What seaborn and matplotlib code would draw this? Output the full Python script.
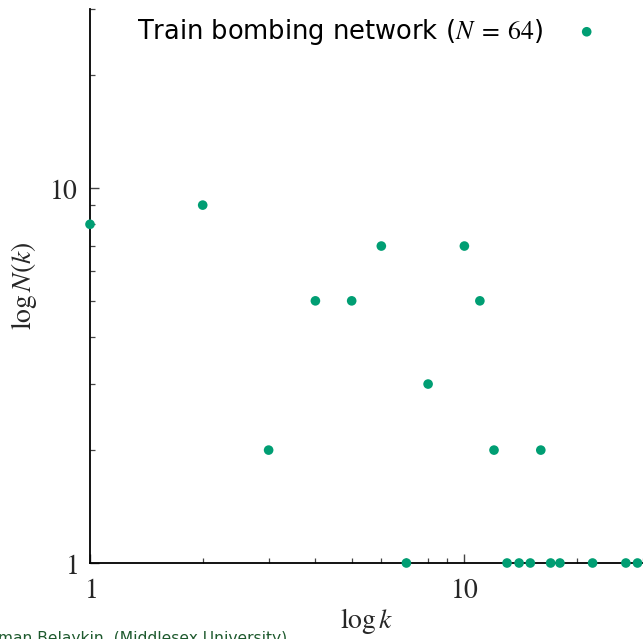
import numpy as np
import pandas as pd
import matplotlib
matplotlib.use("Agg")
import matplotlib.pyplot as plt
import seaborn as sns
from matplotlib.ticker import FixedLocator, FixedFormatter, NullFormatter

# Data: degree k and number of nodes N(k)
degree = [1, 2, 3, 4, 5, 6, 7, 8, 10, 11, 12, 13, 14, 15, 16, 17, 18, 22, 27, 29]
count = [8, 9, 2, 5, 5, 7, 1, 3, 7, 5, 2, 1, 1, 1, 2, 1, 1, 1, 1, 1]
series_label = r"Train bombing network ($N\;=\;64$)"
x_ticks = [1, 10]
y_ticks = [1, 10]
x_tick_labels = [r"$1$", r"$10$"]
y_tick_labels = [r"$1$", r"$10$"]
footer = "man Belaykin, (Middlesex University)"

df = pd.DataFrame({"k": degree, "N": count})

sns.set_style("ticks")
plt.rcParams["font.family"] = ["DejaVu Sans"]
plt.rcParams["mathtext.fontset"] = "stix"

W, H = 643, 639
fig = plt.figure(figsize=(W / 100, H / 100), dpi=100)
ax = fig.add_axes([90 / W, (H - 563) / H, (643 - 90) / W, (563 - 9) / H])

green = "#009E73"
sns.scatterplot(data=df, x="k", y="N", ax=ax, color=green, s=48,
                edgecolor="none", linewidth=0, label=series_label, clip_on=False,
                zorder=3)

ax.set_xscale("log")
ax.set_yscale("log")
ax.set_xlim(1, 30)
ax.set_ylim(1, 30)

ax.xaxis.set_major_locator(FixedLocator(x_ticks))
ax.xaxis.set_major_formatter(FixedFormatter(x_tick_labels))
ax.yaxis.set_major_locator(FixedLocator(y_ticks))
ax.yaxis.set_major_formatter(FixedFormatter(y_tick_labels))
ax.xaxis.set_minor_formatter(NullFormatter())
ax.yaxis.set_minor_formatter(NullFormatter())

ax.tick_params(which="major", direction="in", length=6.5, width=1.0,
               labelsize=20, pad=9, color="#444444")
ax.tick_params(which="minor", direction="in", length=3.3, width=0.9,
               color="#444444")

for side in ["top", "right"]:
    ax.spines[side].set_visible(False)
for side in ["left", "bottom"]:
    ax.spines[side].set_linewidth(1.3)
    ax.spines[side].set_color("black")

ax.set_xlabel(r"$\log k$", fontsize=20, labelpad=2)
ax.set_ylabel(r"$\log N(k)$", fontsize=20, labelpad=7)

leg = ax.legend(loc="upper right", frameon=False, markerfirst=False,
                fontsize=18.5, handletextpad=1.2, borderaxespad=0,
                bbox_to_anchor=(0.94, 1.005), handlelength=1.0, markerscale=1.0)
for t in leg.get_texts():
    t.set_color("black")

fig.text(-0.003, -0.006, footer, fontsize=11.2, color="#1e5a2e",
         ha="left", va="baseline")

fig.savefig("out.png", dpi=100)
